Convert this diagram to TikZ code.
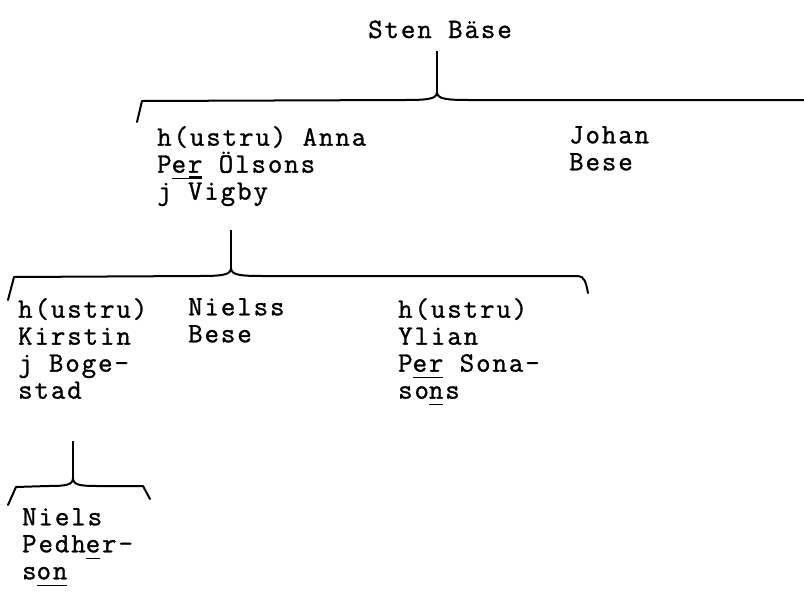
\documentclass[tikz,border=0pt]{standalone}
\usepackage{fontspec}
\usepackage{calc}
\newfontfamily\typewriter{Latin Modern Mono}[FakeBold=1.2, LetterSpace=7]
\newcommand\barover[1]{\leavevmode\rlap{\makebox[\widthof{#1}]{\smash{\rule[0.78em]{0.45em}{1.4pt}}}}#1}
\newcommand\barunder[1]{\leavevmode\rlap{\smash{\rule[-0.24em]{\widthof{#1}}{1.5pt}}}#1}
\usetikzlibrary{positioning}

\begin{document}
\begin{tikzpicture}[
    x=1pt, y=-1pt,
    person/.style={anchor=north west, inner sep=0pt, align=left,
                   font=\typewriter\fontsize{28}{27}\selectfont},
    stem/.style={line width=2pt},
    brace/.style={line width=2pt, line join=round, line cap=round}
]
\useasboundingbox (0,0) rectangle (804,600);

% Sten and his children
\node[person, anchor=base] (sten) at (440,38) {Sten Bäse};
\coordinate (cusp1) at (437,92);
\draw[brace] (137,122) -- (142,101) -- (405,100)
    .. controls (428,100) and (437,99) .. (cusp1)
    .. controls (437,99) and (446,100) .. (469,100) -- (806,100);
\draw[stem, shorten <=12pt] (sten.south -| cusp1) -- (cusp1);

\node[person] (anna) at (157,126) {h(ustru) Anna\\P\barunder{er} Ölsons\\j \barover{V}igby};
\node[person] (johan) at (569,126) {Johan\\Bese};

% Anna's children
\coordinate (cusp2) at (231,268);
\draw[brace] (8,300) -- (14,277) -- (199,276)
    .. controls (222,276) and (231,275) .. (cusp2)
    .. controls (231,275) and (240,276) .. (263,276) -- (578,276)
    .. controls (584,276) and (586,282) .. (588,293);
\draw[stem, shorten <=24pt] (anna.south -| cusp2) -- (cusp2);

\node[person] (kirstin) at (18,298) {h(ustru)\\Kirstin\\j Boge-\\stad};
\node[person] (nielss) at (188,298) {Nielss\\Bese};
\node[person] (ylian) at (398,298) {h(ustru)\\Ylian\\P\barunder{er} Sona-\\so\barunder{n}s};

% Kirstin's child
\coordinate (cusp3) at (73,478);
\draw[brace] (8,505) -- (16,487) -- (48,486)
    .. controls (66,486) and (73,485) .. (cusp3)
    .. controls (73,485) and (80,486) .. (98,486) -- (143,486) -- (150,499);
\draw[stem, shorten <=42pt] (kirstin.south -| cusp3) -- (cusp3);

\node[person] (niels) at (22,508) {Niels\\Pedh\barunder{e}r-\\s\barunder{on}};

\end{tikzpicture}
\end{document}
